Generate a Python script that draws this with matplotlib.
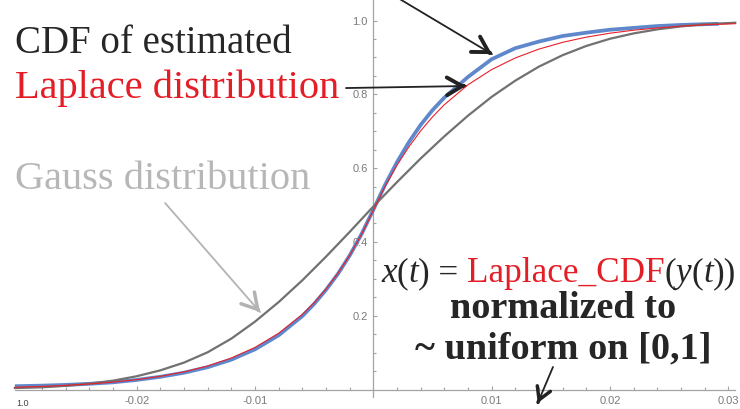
import numpy as np
import matplotlib
matplotlib.use("Agg")
import matplotlib.pyplot as plt
from matplotlib.ticker import FixedLocator, NullFormatter

# empirical CDF of the normalised signal (blue)
x_emp = [-0.0303, -0.028, -0.026, -0.024, -0.022, -0.020, -0.018, -0.016, -0.014,
         -0.012, -0.010, -0.008, -0.006, -0.005, -0.004, -0.003, -0.002, -0.001,
         0.0, 0.001, 0.002, 0.003, 0.004, 0.005, 0.006, 0.008, 0.010, 0.012,
         0.014, 0.016, 0.018, 0.020, 0.022, 0.024, 0.026, 0.028, 0.0292]
cdf_emp = [0.009, 0.0105, 0.0125, 0.0155, 0.0195, 0.026, 0.0345, 0.0455, 0.0605,
           0.081, 0.109, 0.147, 0.199, 0.232, 0.270, 0.313, 0.363, 0.421,
           0.487, 0.555, 0.616, 0.670, 0.717, 0.757, 0.791, 0.847, 0.895, 0.925,
           0.943, 0.958, 0.967, 0.975, 0.980, 0.985, 0.988, 0.990, 0.991]

# fitted Laplace CDF (red)
x_lap = [-0.0303, -0.028, -0.026, -0.024, -0.022, -0.020, -0.018, -0.016, -0.014,
         -0.012, -0.010, -0.008, -0.006, -0.005, -0.004, -0.003, -0.002, -0.001,
         0.0, 0.001, 0.002, 0.003, 0.004, 0.005, 0.006, 0.008, 0.010, 0.012,
         0.014, 0.016, 0.018, 0.020, 0.022, 0.024, 0.026, 0.028, 0.0306]
cdf_lap = [0.006, 0.0084, 0.0112, 0.0150, 0.0200, 0.0268, 0.0358, 0.0478, 0.0638,
           0.0853, 0.1141, 0.1524, 0.2035, 0.2353, 0.2720, 0.3144, 0.3635, 0.4202,
           0.4857, 0.5512, 0.6078, 0.6574, 0.7009, 0.7386, 0.7717, 0.8257, 0.8670,
           0.8985, 0.9225, 0.9409, 0.9549, 0.9656, 0.9737, 0.9799, 0.9847, 0.9883,
           0.9914]

# Gaussian CDF with the same mean / spread (gray)
x_gauss = [-0.0303, -0.028, -0.026, -0.024, -0.022, -0.020, -0.018, -0.016, -0.014,
           -0.012, -0.010, -0.008, -0.006, -0.004, -0.002, 0.0, 0.002, 0.004,
           0.006, 0.008, 0.010, 0.012, 0.014, 0.016, 0.018, 0.020, 0.022, 0.024,
           0.026, 0.028, 0.0306]
cdf_gauss = [0.004, 0.006, 0.010, 0.016, 0.024, 0.036, 0.052, 0.073, 0.101,
             0.138, 0.184, 0.237, 0.296, 0.360, 0.427, 0.496, 0.562, 0.626,
             0.686, 0.742, 0.793, 0.837, 0.875, 0.906, 0.931, 0.9505, 0.965, 0.976,
             0.984, 0.990, 0.994]

x_major = [-0.02, -0.01, 0.01, 0.02, 0.03]
x_major_labels = ["-0.02", "-0.01", "0.01", "0.02", "0.03"]
y_major = [0.2, 0.4, 0.6, 0.8, 1.0]
y_major_labels = ["0.2", "0.4", "0.6", "0.8", "1.0"]

W, H = 740, 409
fig = plt.figure(figsize=(W / 100, H / 100), dpi=100)
ax = fig.add_axes([0, 0, 1, 1])
ax.set_xlim(-0.03156, 0.03100)
ax.set_ylim(-0.0528, 1.0556)
ax.patch.set_visible(False)


def px(x, y):
    # pixel position (from top-left) -> figure fraction
    return x / W, 1 - y / H


axis_col = "#a3a3a3"
for side in ["top", "right"]:
    ax.spines[side].set_visible(False)
ax.spines["left"].set_position(("data", 0))
ax.spines["bottom"].set_position(("data", 0))
ax.spines["left"].set_bounds(-0.02, 1.0556)
ax.spines["bottom"].set_bounds(-0.0303, 0.0306)
for side in ["left", "bottom"]:
    ax.spines[side].set_color(axis_col)
    ax.spines[side].set_linewidth(0.9)

ax.xaxis.set_major_locator(FixedLocator(x_major))
ax.yaxis.set_major_locator(FixedLocator(y_major))
ax.set_xticklabels(x_major_labels)
ax.set_yticklabels(y_major_labels)
x_minor = [v for v in np.round(np.arange(-0.028, 0.0305, 0.002), 4)
           if min(abs(v - m) for m in x_major + [0.0]) > 1e-6]
y_minor = [v for v in np.round(np.arange(0.05, 1.0, 0.05), 3)
           if min(abs(v - m) for m in y_major) > 1e-6]
ax.xaxis.set_minor_locator(FixedLocator(x_minor))
ax.yaxis.set_minor_locator(FixedLocator(y_minor))
ax.xaxis.set_minor_formatter(NullFormatter())
ax.yaxis.set_minor_formatter(NullFormatter())
ax.tick_params(which="both", direction="in", color=axis_col, width=0.8,
               labelcolor="#7a7a7a", labelsize=8)
ax.tick_params(which="major", length=3.2)
ax.tick_params(which="minor", length=2.0)
ax.tick_params(axis="x", pad=5)
ax.tick_params(axis="y", pad=4)
for lab in ax.get_xticklabels() + ax.get_yticklabels():
    lab.set_fontfamily("Liberation Sans")

# curves
ax.plot(x_emp, cdf_emp, color="#5e88cb", lw=2.7, solid_capstyle="butt", zorder=3)
ax.plot(x_gauss, cdf_gauss, color="#717171", lw=1.6, zorder=4)
ax.plot(x_lap, cdf_lap, color="#e8212b", lw=0.8, zorder=5)

# labels on the left
serif = "Liberation Serif"
fig.text(*px(15, 53), "CDF of estimated", fontsize=28, family=serif,
         color="#262626", va="baseline")
fig.text(*px(15, 98), "Laplace distribution", fontsize=29.2, family=serif,
         color="#e41e26", va="baseline")
fig.text(*px(15, 189), "Gauss distribution", fontsize=29.2, family=serif,
         color="#b7b7b7", va="baseline")

# formula line, built piece by piece so colours and italics can differ
pieces = [("x", "#262626", "italic"), ("(", "#262626", "normal"),
          ("t", "#262626", "italic"), (") = ", "#262626", "normal"),
          ("Laplace_CDF", "#e41e26", "normal"), ("(", "#262626", "normal"),
          ("y", "#262626", "italic"), ("(", "#262626", "normal"),
          ("t", "#262626", "italic"), ("))", "#262626", "normal")]
prev = fig.text(*px(381, 282), pieces[0][0], fontsize=25.3, family=serif,
                color=pieces[0][1], style=pieces[0][2], va="baseline")
for txt, col, sty in pieces[1:]:
    prev = ax.annotate(txt, xy=(1, 0), xycoords=prev, va="bottom", ha="left",
                       fontsize=25.3, family=serif, color=col, style=sty,
                       annotation_clip=False)

fig.text(*px(563, 318), "normalized to", fontsize=27.5, family=serif,
         weight="bold", color="#262626", ha="center", va="baseline")
fig.text(*px(563, 358), "~ uniform on [0,1]", fontsize=27.5, family=serif,
         weight="bold", color="#262626", ha="center", va="baseline")

# small tick label of a neighbouring plot in the lower-left corner
fig.text(*px(16, 408.5), "1.0", fontsize=6.5, family="Liberation Sans",
         color="#444444", va="bottom")


def arrow(tip, start, color, lw_shaft, lw_head, size):
    ax.annotate("", xy=tip, xytext=start,
                arrowprops=dict(arrowstyle="-", color=color, lw=lw_shaft,
                                shrinkA=0, shrinkB=0), annotation_clip=False)
    d = np.array(tip) - np.array(start)
    back = (tip[0] - d[0] * 0.02, tip[1] - d[1] * 0.02)
    ax.annotate("", xy=tip, xytext=back,
                arrowprops=dict(arrowstyle="->,head_length=0.55,head_width=0.32",
                                color=color, lw=lw_head, shrinkA=0, shrinkB=0,
                                mutation_scale=size), annotation_clip=False)


arrow((0.01003, 0.909), (0.00167, 1.069), "#222222", 1.3, 2.8, 20)
arrow((0.00784, 0.8225), (-0.00231, 0.817), "#222222", 1.3, 2.8, 20)
arrow((-0.00958, 0.210), (-0.0176, 0.5054), "#b3b3b3", 1.3, 2.5, 20)
arrow((0.0139, -0.0366), (0.01519, 0.061), "#222222", 1.3, 2.5, 16)

fig.savefig("out.png", dpi=100)
